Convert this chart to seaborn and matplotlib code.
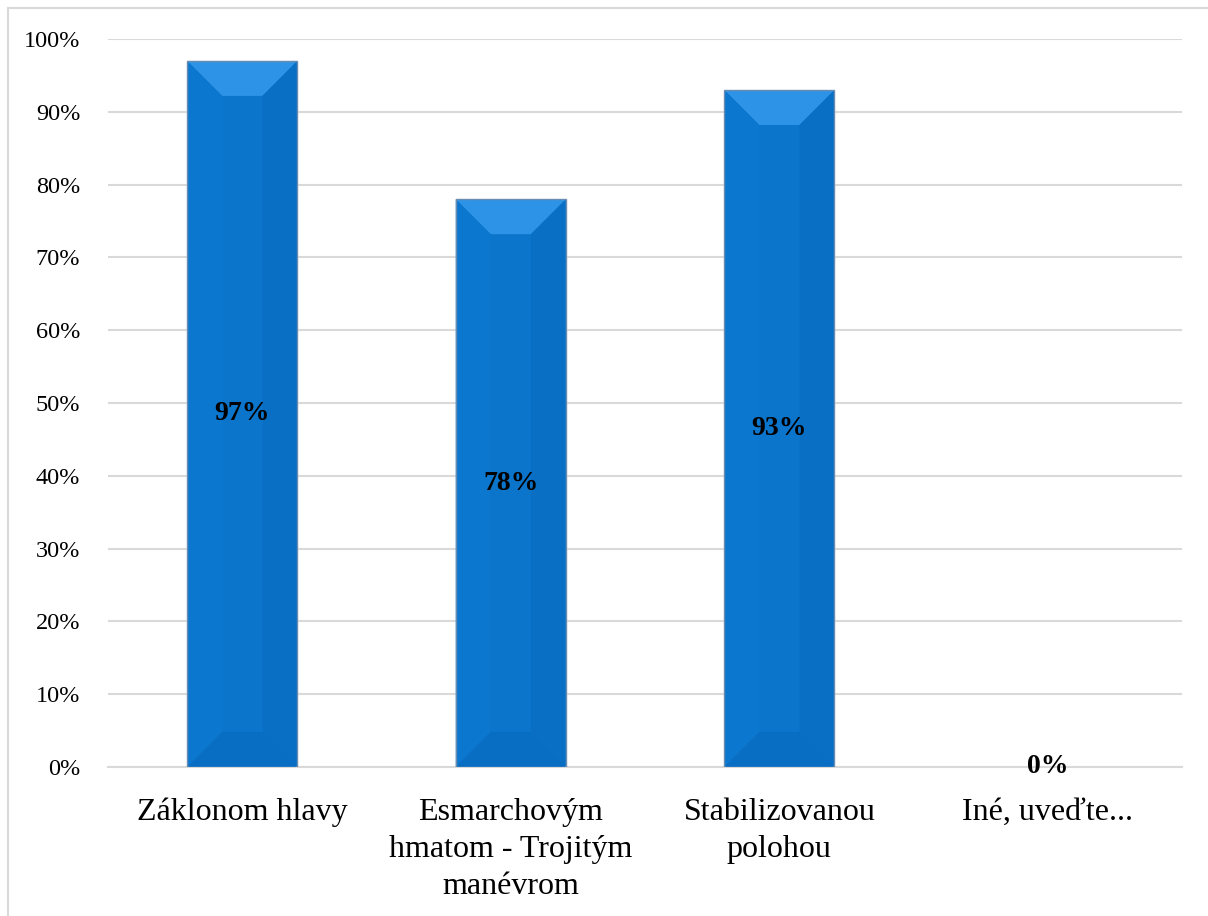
import matplotlib
matplotlib.use("Agg")
import matplotlib.pyplot as plt
import matplotlib.patches as mpatches
import seaborn as sns
import pandas as pd
from matplotlib.ticker import PercentFormatter

categories = ["Záklonom hlavy", "Esmarchovým\nhmatom - Trojitým\nmanévrom", "Stabilizovanou\npolohou", "Iné, uveďte..."]
values = [97, 78, 93, 0]
labels = ["97%", "78%", "93%", "0%"]

BLUE = "#0B74CB"


def bevel(ax, patch, dx, dy):
	# fake the office "bevel" look on a bar
	x = patch.get_x()
	w = patch.get_width()
	h = patch.get_height()
	if h <= 0:
		return
	x1 = x + w
	faces = [
		([(x, h), (x1, h), (x1 - dx, h - dy), (x + dx, h - dy)], "#2D93E6"),
		([(x, 0), (x + dx, dy), (x + dx, h - dy), (x, h)], "#0C77CE"),
		([(x1, 0), (x1, h), (x1 - dx, h - dy), (x1 - dx, dy)], "#086FC5"),
		([(x, 0), (x1, 0), (x1 - dx, dy), (x + dx, dy)], "#086EC4"),
	]
	for pts, col in faces:
		ax.add_patch(mpatches.Polygon(pts, closed=True, facecolor=col, edgecolor="none", zorder=3))
	ax.add_patch(mpatches.Rectangle((x, 0), w, h, facecolor="none", edgecolor="#6A8CB0", linewidth=1.0, zorder=4))


def main():
	sns.set_theme(style="white")
	plt.rcParams["font.family"] = ["Liberation Serif", "DejaVu Serif"]
	fig = plt.figure(figsize=(12.08, 9.16), dpi=100)
	ax = fig.add_axes([0.0894, 0.1627, 0.8892, 0.7946])
	df = pd.DataFrame({"cat": categories, "val": values})
	sns.barplot(data=df, x="cat", y="val", color=BLUE, saturation=1, width=0.41, ax=ax, zorder=2)
	for p in ax.patches[:]:
		bevel(ax, p, 0.13, 4.8)
	for i, v in enumerate(values):
		y = v / 2 if v > 0 else v
		ax.text(i, y, labels[i], ha="center", va="center", fontsize=20, fontweight="bold", color="black", zorder=5)
	ax.set_ylim(0, 100)
	ax.set_xlim(-0.5, 3.5)
	ax.set_yticks(range(0, 101, 10))
	ax.yaxis.set_major_formatter(PercentFormatter(decimals=0))
	ax.grid(axis="y", color="#D9D9D9", linewidth=1.5, zorder=0)
	ax.set_axisbelow(True)
	for s in ["top", "right", "left"]:
		ax.spines[s].set_visible(False)
	ax.spines["bottom"].set_color("#D9D9D9")
	ax.spines["bottom"].set_linewidth(1.5)
	ax.tick_params(axis="y", labelsize=17.5, length=0, pad=20, labelcolor="black")
	ax.tick_params(axis="x", labelsize=23, length=0, pad=22, labelcolor="black")
	for t in ax.get_xticklabels():
		t.set_linespacing(1.38)
		t.set_va("top")
	ax.set_xlabel("")
	ax.set_ylabel("")
	fig.patches.append(mpatches.Rectangle((0.0066, -0.01), 1.0, 1.0012, transform=fig.transFigure, fill=False, edgecolor="#D9D9D9", linewidth=1.5))
	fig.savefig("out.png", dpi=100)
	plt.close()


if __name__ == "__main__":
	main()
